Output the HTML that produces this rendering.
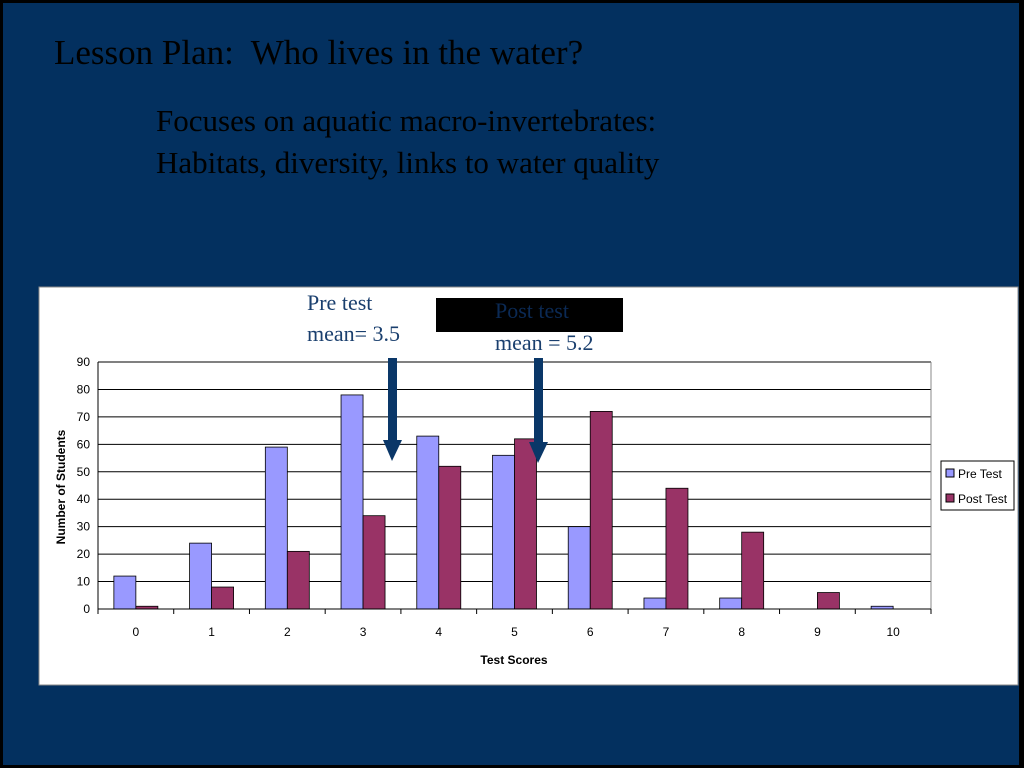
<!DOCTYPE html>
<html><head><meta charset="utf-8"><style>
body{margin:0;width:1024px;height:768px;overflow:hidden;background:#000;}
#slide{position:absolute;left:3px;top:3px;width:1016px;height:762px;background:#03305f;}
.t{position:absolute;font-family:"Liberation Serif",serif;color:#000;}
</style></head><body>
<div id="slide"></div>
<div class="t" style="left:54px;top:33px;font-size:35px;">Lesson Plan:&nbsp; Who lives in the water?</div>
<div class="t" style="left:156px;top:100px;font-size:31px;line-height:42px;">Focuses on aquatic macro-invertebrates:<br>Habitats, diversity, links to water quality</div>
<svg width="1024" height="768" style="position:absolute;left:0;top:0">
<rect x="39" y="287" width="979" height="398" fill="#fff" stroke="#888"/>
<g id="g"></g>
<rect x="436" y="298" width="187" height="34" fill="#000"/>
<text x="307" y="310" font-family="Liberation Serif,serif" font-size="22" fill="#1a3f6e">Pre test</text>
<text x="307" y="341" font-family="Liberation Serif,serif" font-size="22" fill="#1a3f6e">mean= 3.5</text>
<text x="495" y="318" font-family="Liberation Serif,serif" font-size="22" fill="#0b2a55">Post test</text>
<text x="495" y="350" font-family="Liberation Serif,serif" font-size="22" fill="#1a3f6e">mean = 5.2</text>
<g fill="#0a3768">
<rect x="388" y="358" width="9" height="82"/>
<polygon points="383,440 402,440 392,461"/>
<rect x="534" y="358" width="9" height="84"/>
<polygon points="529,442 548,442 538,463"/>
</g>
<text transform="translate(65,487) rotate(-90)" text-anchor="middle" font-family="Liberation Sans,sans-serif" font-weight="bold" font-size="12">Number of Students</text>
<text x="514" y="664" text-anchor="middle" font-family="Liberation Sans,sans-serif" font-weight="bold" font-size="12">Test Scores</text>
<g>
<rect x="941" y="461" width="73" height="49" fill="#fff" stroke="#000"/>
<rect x="946" y="469" width="8" height="8" fill="#9999ff" stroke="#000"/>
<text x="958" y="478" font-family="Liberation Sans,sans-serif" font-size="12">Pre Test</text>
<rect x="946" y="494" width="8" height="8" fill="#993366" stroke="#000"/>
<text x="958" y="503" font-family="Liberation Sans,sans-serif" font-size="12">Post Test</text>
</g>
</svg>
<script>
const categories=["0","1","2","3","4","5","6","7","8","9","10"];
const preTest=[12,24,59,78,63,56,30,4,4,0,1];
const postTest=[1,8,21,34,52,62,72,44,28,6,0];
const yTicks=[0,10,20,30,40,50,60,70,80,90];
const X0=98,X1=931,Y0=609,Y1=362,YMAX=90;
const NS="http://www.w3.org/2000/svg";
const g=document.getElementById('g');
const cw=(X1-X0)/categories.length;
const xc=i=>X0+cw*(i+0.5);
const y=v=>Y0-(v/YMAX)*(Y0-Y1);
function mk(t,a){const e=document.createElementNS(NS,t);for(const k in a)e.setAttribute(k,a[k]);g.appendChild(e);return e;}
yTicks.forEach(v=>{
 const l=mk('line',{x1:X0,x2:X1,y1:y(v),y2:y(v),stroke:'#000','stroke-width':1});
 
 
 const t=mk('text',{x:X0-8,y:y(v)+4,'text-anchor':'end','font-family':'Liberation Sans,sans-serif','font-size':12});
 t.textContent=v;
 
 
});
mk('line',{x1:X1,x2:X1,y1:Y1,y2:Y0,stroke:'#888'});
mk('line',{x1:X0,x2:X0,y1:Y1,y2:Y0,stroke:'#000'});
const bw=22;
categories.forEach((c,i)=>{
 const tk=mk('line',{x1:X0+cw*i,x2:X0+cw*i,y1:Y0,y2:Y0+5,stroke:'#000'});
 
 
 const b1=mk('rect',{x:xc(i)-bw,y:y(preTest[i]),width:bw,height:Y0-y(preTest[i]),fill:'#9999ff',stroke:'#000','stroke-width':0.8});
 
 
 const b2=mk('rect',{x:xc(i),y:y(postTest[i]),width:bw,height:Y0-y(postTest[i]),fill:'#993366',stroke:'#000','stroke-width':0.8});
 
 
 const t=mk('text',{x:xc(i),y:636,'text-anchor':'middle','font-family':'Liberation Sans,sans-serif','font-size':12});
 t.textContent=c;
 
 
});
mk('line',{x1:X1,x2:X1,y1:Y0,y2:Y0+5,stroke:'#000'});
mk('line',{x1:X0,x2:X1,y1:Y0,y2:Y0,stroke:'#000'});
</script>
</body></html>
